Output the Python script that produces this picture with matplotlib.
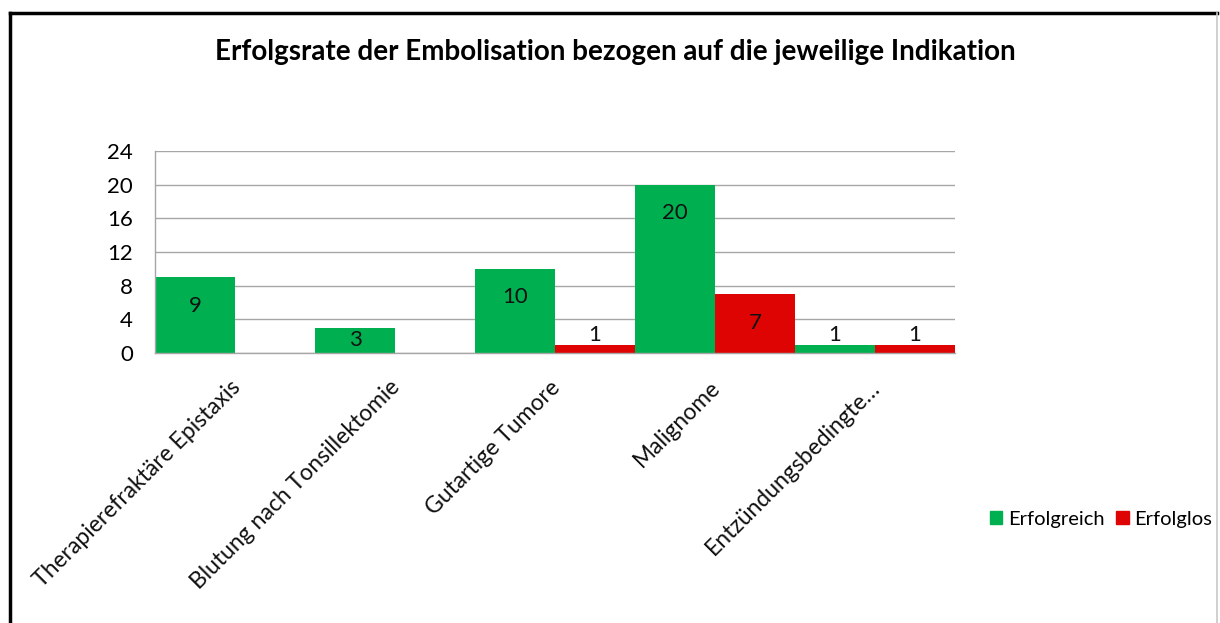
import numpy as np
from matplotlib import pyplot as plt
from matplotlib.patches import Patch
from matplotlib.lines import Line2D

categories = ['Therapierefraktäre Epistaxis', 'Blutung nach Tonsillektomie', 'Gutartige Tumore',
              'Malignome', 'Entzündungsbedingte…']
erfolgreich = [9, 3, 10, 20, 1]
erfolglos = [0, 0, 1, 7, 1]
yticks = [0, 4, 8, 12, 16, 20, 24]

GREEN = '#00B050'
RED = '#DF0404'

plt.rcParams['font.family'] = ['Lato', 'DejaVu Sans']

fig = plt.figure(figsize=(12.2, 6.23), dpi=100)
ax = fig.add_axes([155 / 1220, 1 - 353 / 623, 800 / 1220, 202 / 623])

x = np.arange(len(categories))
w = 0.5
ax.bar(x - w / 2, erfolgreich, w, color=GREEN, label='Erfolgreich', zorder=2)
ax.bar(x + w / 2, erfolglos, w, color=RED, label='Erfolglos', zorder=2)


def label_y(v):
    if v - 3.4 >= 1.5:
        return v - 3.4
    if v >= 2:
        return v / 2
    return v + 1.1


for xs, vals in ((x - w / 2, erfolgreich), (x + w / 2, erfolglos)):
    for xi, v in zip(xs, vals):
        if v == 0:
            continue
        ax.text(xi, label_y(v), str(v), ha='center', va='center', fontsize=16, color='#111111', zorder=3)

ax.set_xlim(-0.5, len(categories) - 0.5)
ax.set_ylim(0, 24)
ax.set_yticks(yticks)
ax.set_yticklabels([str(t) for t in yticks], fontsize=16)
ax.yaxis.grid(True, color='#A6A6A6', linewidth=1.0, zorder=0)
ax.set_axisbelow(True)
ax.tick_params(axis='y', length=0, pad=16)
ax.tick_params(axis='x', length=0)
ax.set_xticks(x)
ax.set_xticklabels([])
for s in ('top', 'right'):
    ax.spines[s].set_visible(False)
for s in ('left', 'bottom'):
    ax.spines[s].set_color('#A6A6A6')
    ax.spines[s].set_linewidth(1.0)

for xi, name in zip(x, categories):
    ax.annotate(name, xy=(xi, 0), xycoords='data', xytext=(-4, -17), textcoords='offset points',
                rotation=45, ha='right', va='top', rotation_mode='anchor', fontsize=16.5, color='#111111')

fig.text(615 / 1220, 1 - 52 / 623, 'Erfolgsrate der Embolisation bezogen auf die jeweilige Indikation',
         ha='center', va='center', fontsize=20, fontweight='bold')

fig.legend(handles=[Patch(color=GREEN, label='Erfolgreich'), Patch(color=RED, label='Erfolglos')],
           loc='center', bbox_to_anchor=(1101 / 1220, 1 - 519 / 623), ncol=2, frameon=False,
           fontsize=14.5, handlelength=0.6, handleheight=0.6, handletextpad=0.3, columnspacing=0.6)

# chart frame
fig.add_artist(Line2D([10 / 1220, 10 / 1220], [0, 1 - 13 / 623], color='black', linewidth=2.5,
                      transform=fig.transFigure))
fig.add_artist(Line2D([10 / 1220, 1217 / 1220], [1 - 13 / 623, 1 - 13 / 623], color='black', linewidth=2.5,
                      transform=fig.transFigure))
fig.add_artist(Line2D([1217 / 1220, 1217 / 1220], [0, 1 - 13 / 623], color='#C8C8C8', linewidth=1.2,
                      transform=fig.transFigure))

plt.savefig('out.png', dpi=100)
